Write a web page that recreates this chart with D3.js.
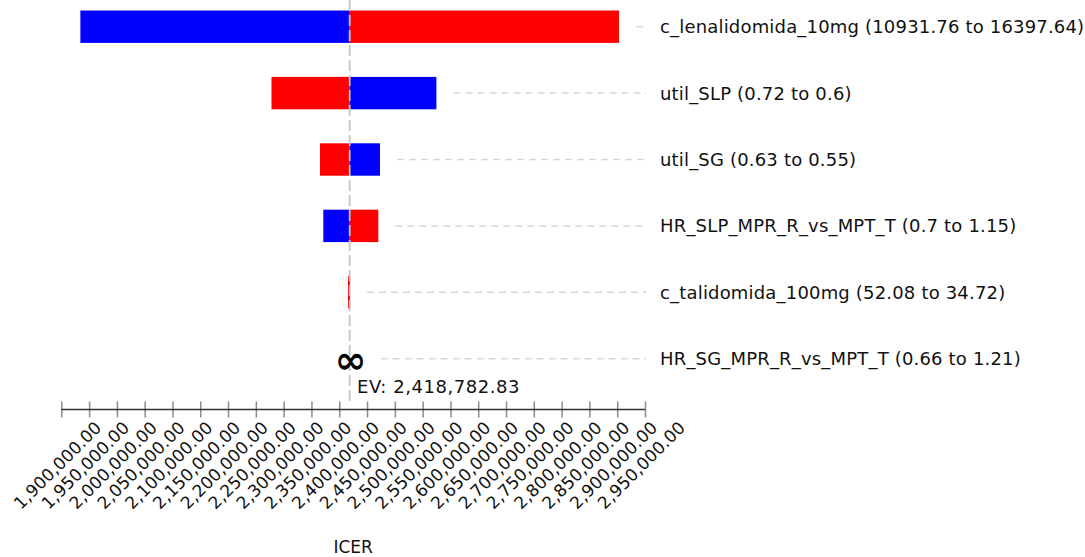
<!DOCTYPE html>
<html>
<head>
<meta charset="utf-8">
<script src="https://cdn.jsdelivr.net/npm/d3@7"></script>
<style>
  html, body { margin: 0; padding: 0; background: #fff; }
  svg { display: block; font-family: "DejaVu Sans", sans-serif; }
</style>
</head>
<body>
<svg id="chart" width="1085" height="557"></svg>
<script>
// Tornado diagram: ICER sensitivity to each parameter range
const parameters = [
  "c_lenalidomida_10mg",
  "util_SLP",
  "util_SG",
  "HR_SLP_MPR_R_vs_MPT_T",
  "c_talidomida_100mg",
  "HR_SG_MPR_R_vs_MPT_T"
];
const firstValues  = ["10931.76", "0.72", "0.63", "0.7", "52.08", "0.66"];
const secondValues = ["16397.64", "0.6", "0.55", "1.15", "34.72", "1.21"];
// ICER with the parameter at its first / second listed value
const icerAtFirst  = [1934283, 2574767, 2473309, 2371312, 2419500, Infinity];
const icerAtSecond = [2903283, 2278129, 2365376, 2470251, 2415700, Infinity];
const expectedValue = 2418782.83;
const tickValues = [1900000, 1950000, 2000000, 2050000, 2100000, 2150000, 2200000,
  2250000, 2300000, 2350000, 2400000, 2450000, 2500000, 2550000, 2600000,
  2650000, 2700000, 2750000, 2800000, 2850000, 2900000, 2950000];
const axisTitle = "ICER";

const svg = d3.select("#chart");
const fmt = d3.format(",.2f");

const x = d3.scaleLinear().domain([1900000, 2950000]).range([61.3, 645]);
const y = d3.scalePoint().domain(parameters).range([26.7, 358.7]);
const barH = 32.4;
const axisY = 409.5;
const labelX = 660;
const dashEnd = 646;

const rows = parameters.map((p, i) => ({
  name: p,
  label: `${p} (${firstValues[i]} to ${secondValues[i]})`,
  first: icerAtFirst[i],
  second: icerAtSecond[i]
}));

// guide lines from each bar to its label
svg.append("g").selectAll("line")
  .data(rows)
  .join("line")
  .attr("x1", d => {
    if (!isFinite(d.first)) return x(expectedValue) + 31;
    return Math.max(x(d.first), x(d.second), x(expectedValue)) + 17;
  })
  .attr("x2", dashEnd)
  .attr("y1", d => y(d.name))
  .attr("y2", d => y(d.name))
  .attr("stroke", "#d6d6d6")
  .attr("stroke-width", 1.5)
  .attr("stroke-dasharray", "7,5");

// bars: one segment per end of the range, from the EV outward
const segs = [];
rows.forEach(d => {
  if (isFinite(d.first)) segs.push({ name: d.name, v: d.first, color: "#0000ff" });
  if (isFinite(d.second)) segs.push({ name: d.name, v: d.second, color: "#ff0000" });
});
svg.append("g").selectAll("rect")
  .data(segs)
  .join("rect")
  .attr("x", d => Math.min(x(d.v), x(expectedValue)))
  .attr("width", d => Math.abs(x(d.v) - x(expectedValue)))
  .attr("y", d => y(d.name) - barH / 2)
  .attr("height", barH)
  .attr("fill", d => d.color);

// expected value reference line
svg.append("line")
  .attr("x1", x(expectedValue)).attr("x2", x(expectedValue))
  .attr("y1", 0).attr("y2", 401.7)
  .attr("stroke", "#c4c4c4")
  .attr("stroke-width", 1.8)
  .attr("stroke-dasharray", "11,4");

// unbounded ranges shown as infinity
svg.append("g").selectAll("text")
  .data(rows.filter(d => !isFinite(d.first)))
  .join("text")
  .attr("x", x(expectedValue) + 1)
  .attr("y", d => y(d.name) + 14)
  .attr("text-anchor", "middle")
  .attr("font-size", 38)
  .attr("font-weight", "bold")
  .attr("fill", "#000")
  .text("\u221e");

svg.append("text")
  .attr("x", 357)
  .attr("y", 393)
  .attr("font-size", 18)
  .attr("letter-spacing", 0.55)
  .attr("fill", "#111")
  .text(`EV: ${fmt(expectedValue)}`);

// parameter labels
svg.append("g").selectAll("text")
  .data(rows)
  .join("text")
  .attr("x", labelX)
  .attr("y", d => y(d.name))
  .attr("dy", "0.36em")
  .attr("font-size", 18)
  .attr("letter-spacing", 0.18)
  .attr("fill", "#111")
  .text(d => d.label);

// value axis
const axis = d3.axisBottom(x)
  .tickValues(tickValues)
  .tickSizeInner(16)
  .tickSizeOuter(0)
  .tickFormat(fmt);

const gAxis = svg.append("g")
  .attr("transform", `translate(0,${axisY - 8})`)
  .call(axis);
gAxis.select(".domain").remove();
gAxis.selectAll(".tick line")
  .attr("stroke", "#8a8a8a")
  .attr("stroke-width", 1.5);
gAxis.selectAll(".tick text")
  .attr("y", null)
  .attr("dy", null)
  .attr("text-anchor", "middle")
  .attr("font-size", 17)
  .attr("letter-spacing", 0.15)
  .attr("font-family", "DejaVu Sans, sans-serif")
  .attr("fill", "#111")
  .attr("transform", "translate(0,68) rotate(-45)");

svg.append("line")
  .attr("x1", x.range()[0]).attr("x2", x.range()[1])
  .attr("y1", axisY).attr("y2", axisY)
  .attr("stroke", "#333")
  .attr("stroke-width", 1.5);

svg.append("text")
  .attr("x", (x.range()[0] + x.range()[1]) / 2)
  .attr("y", 553)
  .attr("text-anchor", "middle")
  .attr("font-size", 17)
  .attr("fill", "#111")
  .text(axisTitle);
</script>
</body>
</html>
